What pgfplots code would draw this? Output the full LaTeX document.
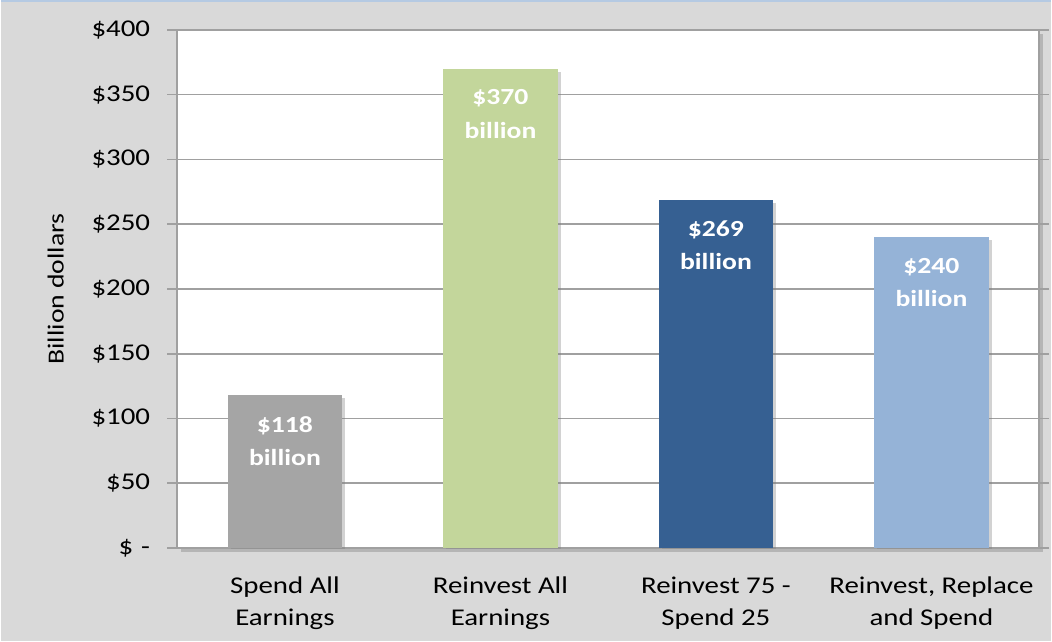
\documentclass[border=0pt]{standalone}
\usepackage{pgfplots}
\pgfplotsset{compat=1.18}
\usepackage{fontspec}
\setmainfont[FakeStretch=1.2]{Carlito}
\usetikzlibrary{shadows}

\definecolor{bgray}{HTML}{D9D9D9}
\definecolor{gridc}{HTML}{A0A0A0}
\definecolor{bargray}{HTML}{A5A5A5}
\definecolor{bargreen}{HTML}{C3D69B}
\definecolor{bardark}{HTML}{366092}
\definecolor{barlight}{HTML}{95B3D7}

\begin{document}
\begin{tikzpicture}[font=\fontsize{12}{16}\selectfont]
  \fill[bgray] (2pt,0) rectangle (526pt,319.5pt);
  \draw[color=barlight!70, line width=0.8pt] (2pt,319.5pt) -- (526pt,319.5pt);
  \begin{axis}[
    at={(90pt,46.5pt)}, anchor=south west,
    scale only axis,
    width=430pt, height=258.5pt,
    ybar, bar width=57pt, bar shift=0pt,
    xmin=-0.5, xmax=3.5,
    ymin=0, ymax=400,
    /pgf/number format/assume math mode=true,
    xtick={0,1,2,3},
    xticklabels={Spend All\\Earnings, Reinvest All\\Earnings, Reinvest 75 -\\Spend 25, {Reinvest, Replace}\\and Spend},
    xticklabel style={align=center, yshift=-6pt},
    extra x ticks={-0.5,0.5,1.5,2.5,3.5},
    extra x tick labels={},
    extra x tick style={major tick length=8pt, tick style={gridc, line width=0.8pt}},
    ytick={0,50,...,400},
    yticklabels={\$\,\,-, \$50, \$100, \$150, \$200, \$250, \$300, \$350, \$400},
    yticklabel style={xshift=-5pt},
    tick align=outside,
    major x tick style={draw=none},
    major y tick style={gridc, line width=0.8pt},
    major tick length=5pt,
    ymajorgrids,
    major grid style={gridc, line width=0.8pt},
    axis line style={gridc, line width=0.8pt},
    axis background/.style={fill=white, drop shadow={shadow xshift=2pt, shadow yshift=-2pt, opacity=0.4}},
    ylabel={Billion dollars},
    ylabel style={font=\fontsize{11.5}{13}\selectfont, yshift=7pt},
    nodes near coords={\$\pgfmathprintnumber{\pgfplotspointmeta}\\billion},
    every node near coord/.append style={anchor=north, align=center, text=white,
      font=\fontsize{11.5}{16.5}\selectfont\bfseries, yshift=-7pt},
  ]
    \addplot[fill=bargray, draw=none, drop shadow={shadow xshift=1.5pt, shadow yshift=-1.5pt, opacity=0.35}] coordinates {(0,118)};
    \addplot[fill=bargreen, draw=none, drop shadow={shadow xshift=1.5pt, shadow yshift=-1.5pt, opacity=0.35}] coordinates {(1,370)};
    \addplot[fill=bardark, draw=none, drop shadow={shadow xshift=1.5pt, shadow yshift=-1.5pt, opacity=0.35}] coordinates {(2,269)};
    \addplot[fill=barlight, draw=none, drop shadow={shadow xshift=1.5pt, shadow yshift=-1.5pt, opacity=0.35}] coordinates {(3,240)};
  \end{axis}
\end{tikzpicture}
\end{document}
